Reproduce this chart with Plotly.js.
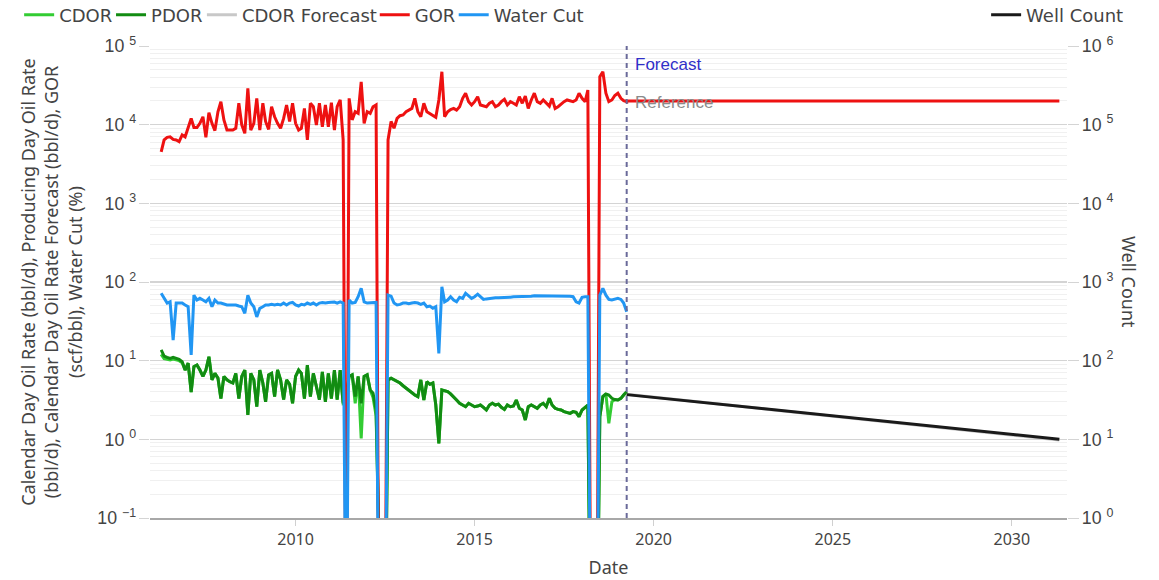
<!DOCTYPE html>
<html>
<head>
<meta charset="utf-8">
<script src="https://cdn.plot.ly/plotly-3.0.1.min.js"></script>
<style>html,body{margin:0;padding:0;background:#fff;}#chart{width:1159px;height:580px;}</style>
</head>
<body>
<div id="chart"></div>
<script>
// ---- data (monthly, first month 2006-04, last month 2019-04) ----
const firstMonth = [2006, 4];
const monthCount = 157;

const gor = [4500, 6400, 6900, 7000, 6500, 6400, 6100, 7400, 7000, 9400,
 12000, 9200, 9200, 10400, 12600, 6900, 14200, 10400, 8400, 14600,
 19600, 11500, 8550, 8550, 8550, 9000, 18700, 9900, 7770, 29000,
 8550, 10400, 21600, 8550, 18700, 11000, 8700, 16900, 12600, 10400,
 9000, 12000, 17800, 11000, 18700, 10400, 8550, 9000, 16100, 6400,
 18700, 16900, 9900, 18700, 9400, 17800, 9400, 19000, 8550, 16900,
 20600, 6400, 0.001, 21600, 11500, 14600, 13900, 35000, 10400, 14600,
 13900, 16900, 17800, 0.001, 0.001, 0.001, 6400, 11000, 9000, 12000,
 13000, 13300, 14600, 15300, 16100, 21600, 14600, 12600, 18700, 14600,
 13900, 13300, 12400, 20600, 47100, 12600, 14600, 15600, 16100, 15300,
 16900, 21600, 25100, 19600, 17800, 19600, 22700, 17800, 17200, 16900,
 18700, 19600, 16900, 17800, 19600, 21000, 17800, 19600, 18700, 17800,
 22700, 18700, 23000, 16100, 20600, 25100, 19600, 18700, 20600, 18700,
 17200, 21600, 16100, 16900, 18300, 19600, 20600, 20200, 19600, 20600,
 25100, 21600, 19600, 27600, 0.001, 0.001, 0.001, 40700, 47100, 25100,
 19600, 20600, 23500, 25100, 21600, 20200, 19600];

const waterCut = [72, 62, 54, 56, 18.3, 54, 54, 54, 51, 48.5,
 11.8, 68, 59, 62, 59, 56, 62, 48.5, 59, 54,
 54, 52, 51, 51, 51, 51, 49.5, 48.5, 40, 68,
 54, 48.5, 36, 46.3, 48.5, 51, 51, 52, 51, 52,
 51, 54, 51, 54, 55, 51, 49.5, 52, 51, 54,
 52, 54, 51, 54, 55, 54, 55, 55, 55.5, 54,
 56, 54, 0.001, 59, 54, 55, 65, 83, 56, 54,
 54, 55, 55, 0.001, 0.001, 0.001, 68, 66, 54, 51,
 52, 54, 54, 53, 54, 55, 54, 52, 54, 48.5,
 49.5, 46.3, 48.5, 12.4, 87, 56, 59, 65, 59, 56,
 64, 62, 72, 66, 62, 65, 70, 65, 60, 61,
 62, 62, 63, 63, 63, 64, 64, 64, 65, 65,
 65, 66, 66, 66, 66, 67, 67, 67, 67, 67,
 67, 67, 67, 66, 66, 66, 66, 66, 65, 56,
 54, 64, 65, 65, 0.001, 0.001, 0.001, 68, 83, 68,
 60, 59, 60, 62, 60, 54, 42];

const pdor = [13.7, 11.4, 11.0, 10.7, 11.0, 10.7, 10.4, 9.7, 7.6, 9.3,
 4.0, 8.4, 8.8, 7.6, 6.3, 7.6, 11.2, 5.7, 6.9, 6.0,
 3.3, 6.3, 5.7, 5.4, 5.2, 6.9, 3.3, 6.3, 7.6, 2.04,
 6.9, 5.7, 2.6, 7.6, 5.2, 3.0, 6.6, 6.9, 3.5, 7.6,
 5.7, 3.2, 5.7, 5.0, 2.87, 6.3, 7.6, 6.9, 3.3, 8.8,
 3.5, 6.9, 4.7, 3.2, 7.2, 3.0, 6.9, 3.3, 7.6, 3.2,
 7.6, 2.87, 3.85, 6.3, 6.6, 3.5, 6.3, 2.87, 6.3, 6.6,
 4.24, 3.85, 2.36, 0.001, 0.001, 0.001, 5.7, 6.0, 5.7, 5.4,
 5.2, 4.8, 4.45, 4.15, 3.85, 3.66, 3.49, 5.7, 3.16, 5.4,
 5.0, 5.2, 2.73, 0.89, 4.24, 4.15, 4.04, 3.78, 3.49, 3.16,
 2.87, 2.73, 2.6, 2.87, 2.73, 2.6, 2.65, 2.73, 2.55, 2.36,
 2.73, 2.87, 2.73, 2.8, 2.55, 2.4, 2.73, 2.6, 2.65, 3.16,
 2.48, 2.36, 1.76, 2.6, 2.73, 2.6, 2.48, 2.73, 2.87, 2.6,
 3.32, 2.73, 2.48, 2.4, 2.36, 2.25, 2.2, 2.14, 2.25, 2.2,
 1.94, 2.36, 2.55, 2.73, 0.001, 0.001, 0.001, 1.94, 3.49, 3.78,
 3.66, 3.32, 3.2, 3.16, 3.32, 3.66, 4.04];

const cdor = [12.0, 10.6, 10.4, 10.2, 10.5, 10.2, 10.0, 9.4, 7.6, 9.3,
 4.0, 8.4, 8.8, 7.6, 6.3, 7.6, 11.2, 5.7, 6.9, 6.0,
 3.3, 6.3, 5.7, 5.4, 5.2, 6.9, 3.3, 6.3, 7.6, 2.04,
 6.9, 5.7, 2.6, 7.6, 5.2, 3.0, 6.6, 6.9, 3.5, 7.6,
 5.7, 3.2, 5.7, 5.0, 2.87, 6.3, 7.6, 6.9, 3.3, 8.8,
 3.5, 6.9, 4.7, 3.2, 7.2, 3.0, 6.9, 3.3, 7.6, 3.2,
 7.6, 2.87, 3.0, 6.3, 6.6, 2.87, 6.3, 1.03, 6.3, 6.6,
 4.24, 3.4, 2.0, 0.001, 0.001, 0.001, 5.7, 6.0, 5.7, 5.4,
 5.2, 4.8, 4.45, 4.15, 3.85, 3.66, 3.49, 5.7, 3.16, 5.4,
 5.0, 5.2, 2.73, 0.89, 4.24, 4.15, 4.04, 3.78, 3.49, 3.16,
 2.87, 2.73, 2.6, 2.87, 2.73, 2.6, 2.65, 2.73, 2.55, 2.36,
 2.73, 2.87, 2.73, 2.8, 2.55, 2.4, 2.73, 2.6, 2.65, 3.16,
 2.48, 2.36, 1.76, 2.6, 2.73, 2.6, 2.48, 2.73, 2.87, 2.6,
 3.32, 2.73, 2.48, 2.4, 2.36, 2.25, 2.2, 2.14, 2.25, 2.2,
 1.94, 2.36, 2.55, 2.73, 0.001, 0.001, 0.001, 1.94, 3.49, 3.78,
 1.6, 3.0, 3.2, 3.16, 3.32, 3.66, 4.04];

// forecast period
const forecastDates = ['2019-04-01', '2031-05-01'];
const cdorForecast = [3.73, 0.98];
const gorForecast = [20000, 20000];
const wellCount = [37, 10];
const forecastStart = '2019-04-01';

// ---- build monthly date labels ----
const dates = [];
for (let i = 0; i < monthCount; i++) {
  const m0 = (firstMonth[1] - 1) + i;
  const y = firstMonth[0] + Math.floor(m0 / 12);
  const m = (m0 % 12) + 1;
  dates.push(y + '-' + String(m).padStart(2, '0') + '-01');
}

const traces = [
  {name: 'CDOR', x: dates, y: cdor, mode: 'lines', legend: 'legend', line: {color: '#33cc33', width: 3}},
  {name: 'PDOR', x: dates, y: pdor, mode: 'lines', legend: 'legend3', line: {color: '#128c12', width: 3}},
  {name: 'CDOR Forecast', x: forecastDates, y: cdorForecast, mode: 'lines', legend: 'legend4', line: {color: '#c8c8c8', width: 3}},
  {name: 'GOR', x: dates.concat(forecastDates), y: gor.concat(gorForecast), mode: 'lines', legend: 'legend5', line: {color: '#ee1111', width: 3}},
  {name: 'Water Cut', x: dates, y: waterCut, mode: 'lines', legend: 'legend6', line: {color: '#2196f3', width: 3}},
  {name: 'Well Count', x: forecastDates, y: wellCount, mode: 'lines', yaxis: 'y2', legend: 'legend2', line: {color: '#1a1a1a', width: 3}}
];

const tickFont = {family: 'Liberation Sans, Arial, sans-serif', size: 14.2, color: '#444'};
const powerAlias = {
  '1': '10 <sup>0</sup>', '10': '10 <sup>1</sup>',
  '10<sup>\u22121</sup>': '10 <sup>\u22121</sup>',
  '10<sup>2</sup>': '10 <sup>2</sup>', '10<sup>3</sup>': '10 <sup>3</sup>',
  '10<sup>4</sup>': '10 <sup>4</sup>', '10<sup>5</sup>': '10 <sup>5</sup>',
  '10<sup>6</sup>': '10 <sup>6</sup>'
};
const legendFont = {family: 'DejaVu Sans', size: 18, color: '#444'};
function legendAt(xPaper) {
  return {orientation: 'h', x: xPaper, xanchor: 'left', y: 1.0657, yanchor: 'middle',
          font: legendFont, bgcolor: 'rgba(0,0,0,0)'};
}

const layout = {
  width: 1159, height: 580,
  margin: {l: 150, r: 92, t: 46, b: 62, autoexpand: false},
  paper_bgcolor: '#fff', plot_bgcolor: '#fff',
  font: {family: 'Noto Sans, sans-serif', color: '#444', size: 16},
  showlegend: true,
  legend: legendAt(-0.1427),
  legend3: legendAt(-0.0425),
  legend4: legendAt(0.0566),
  legend5: legendAt(0.2451),
  legend6: legendAt(0.3312),
  legend2: legendAt(0.9118),
  xaxis: {
    type: 'date', range: ['2005-12-08', '2031-07-18'],
    tick0: '2010-01-01', dtick: 'M60', tickformat: '%Y',
    showgrid: false, zeroline: false,
    showline: true, linecolor: '#a8a8a8', linewidth: 2,
    ticks: 'outside', ticklen: 6, tickcolor: '#d0d0d0',
    tickfont: {family: 'Noto Sans', size: 16, color: '#444'},
    title: {text: 'Date', font: {family: 'Noto Sans', size: 18, color: '#444'}, standoff: 12}
  },
  yaxis: {
    type: 'log', range: [-1, 5], dtick: 1, exponentformat: 'power',
    labelalias: powerAlias,
    showgrid: true, gridcolor: '#d4d4d4', gridwidth: 1.5, zeroline: false,
    minor: {dtick: 'D1', showgrid: true, gridcolor: '#f0f0f0', gridwidth: 1},
    ticks: 'outside', ticklen: 10, tickcolor: '#d4d4d4',
    tickfont: tickFont,
    title: {text: 'Calendar Day Oil Rate (bbl/d), Producing Day Oil Rate<br>(bbl/d), Calendar Day Oil Rate Forecast (bbl/d), GOR<br>(scf/bbl), Water Cut (%)',
            font: {family: 'Noto Sans', size: 18, color: '#444'}, standoff: 10}
  },
  yaxis2: {
    type: 'log', range: [0, 6], dtick: 1, exponentformat: 'power',
    labelalias: powerAlias,
    overlaying: 'y', side: 'right', showgrid: false, zeroline: false,
    ticks: 'outside', ticklen: 11, tickcolor: '#d4d4d4',
    tickfont: tickFont
  },
  shapes: [
    {type: 'line', xref: 'x', yref: 'paper', x0: forecastStart, x1: forecastStart, y0: 0, y1: 1,
     line: {color: '#6a6a9a', width: 2, dash: '5px,4px'}}
  ],
  annotations: [
    {text: 'Forecast', xref: 'x', yref: 'paper', x: forecastStart, y: 0.96, xanchor: 'left', yanchor: 'middle',
     xshift: 6, showarrow: false, font: {family: 'Liberation Sans, Arial', size: 17, color: '#3030c8'}},
    {text: 'Reference', xref: 'x', yref: 'paper', x: forecastStart, y: 0.881, xanchor: 'left', yanchor: 'middle',
     xshift: 6, showarrow: false, font: {family: 'Liberation Sans, Arial', size: 17, color: '#8a8a8a'}},
    {text: 'Well Count', xref: 'paper', yref: 'paper', x: 1.0675, y: 0.5, xanchor: 'center', yanchor: 'middle',
     textangle: 90, showarrow: false, font: {family: 'Noto Sans', size: 18, color: '#444'}}
  ]
};

Plotly.newPlot('chart', traces, layout, {displayModeBar: false, staticPlot: true});
</script>
</body>
</html>
